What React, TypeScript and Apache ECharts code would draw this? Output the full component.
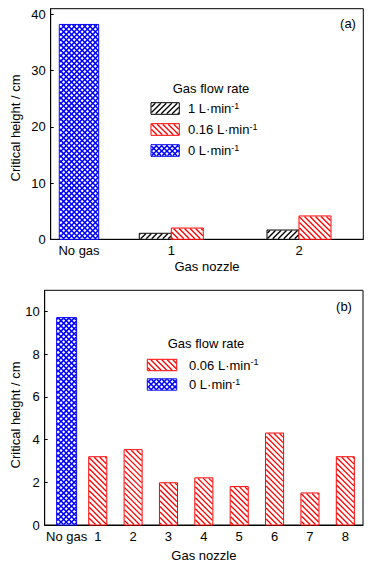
import React, { useEffect, useRef } from 'react';
import * as echarts from 'echarts';

const FONT = '"Liberation Sans", Arial, Helvetica, sans-serif';
const RED = '#ff0000';
const BLUE = '#0000ff';
const BLACK = '#000000';

// ---------- Panel (a) ----------
const topCategories = ['No gas', '1', '2'];
const topPositions = [0.905, 3.858, 7.943];
const topFlow1 = [null, 1.07, 1.65];
const topFlow016 = [null, 2.0, 4.15];
const topFlow0 = [38.2, null, null];
const topYTicks = [0, 10, 20, 30, 40];
const topLegendNames = ['1 L·min', '0.16 L·min', '0 L·min'];

// ---------- Panel (b) ----------
const bottomCategories = ['No gas', '1', '2', '3', '4', '5', '6', '7', '8'];
const bottomPositions = [0.62, 1.5, 2.5, 3.5, 4.5, 5.5, 6.5, 7.5, 8.5];
const bottomFlow006 = [null, 3.2, 3.53, 1.98, 2.21, 1.8, 4.31, 1.5, 3.2];
const bottomFlow0 = [9.72, null, null, null, null, null, null, null, null];
const bottomYTicks = [0, 2, 4, 6, 8, 10];
const bottomLegendNames = ['0.06 L·min', '0 L·min'];

type Hatch = 'fwd' | 'back' | 'cross';
interface BarStyle {
  color: string;
  hatch: Hatch;
  period: number;
  lw: number;
}

const S_BLACK: BarStyle = { color: BLACK, hatch: 'fwd', period: 5.5, lw: 1.3 };
const S_RED: BarStyle = { color: RED, hatch: 'back', period: 5.5, lw: 1.3 };
const S_BLUE: BarStyle = { color: BLUE, hatch: 'cross', period: 5.3, lw: 1.5 };

function swatch(ax0: number, ay0: number, ax1: number, ay1: number, st: BarStyle): any[] {
  const x0 = Math.min(ax0, ax1), x1 = Math.max(ax0, ax1);
  const y0 = Math.min(ay0, ay1), y1 = Math.max(ay0, ay1);
  const els: any[] = [];
  els.push({
    type: 'rect',
    shape: { x: x0, y: y0, width: x1 - x0, height: y1 - y0 },
    style: { fill: '#ffffff', stroke: 'none' },
  });
  const cx0 = x0 + 0.5, cx1 = x1 - 0.5, cy0 = y0 + 0.5, cy1 = y1 - 0.5;
  const dirs: ('fwd' | 'back')[] = st.hatch === 'cross' ? ['fwd', 'back'] : [st.hatch];
  const p = st.period;
  for (const d of dirs) {
    if (d === 'back') {
      const cMin = Math.ceil((cy0 - cx1) / p) * p;
      for (let c = cMin; c <= cy1 - cx0; c += p) {
        const xa = Math.max(cx0, cy0 - c);
        const xb = Math.min(cx1, cy1 - c);
        if (xb - xa < 0.05) continue;
        els.push({
          type: 'line',
          shape: { x1: xa, y1: xa + c, x2: xb, y2: xb + c },
          style: { stroke: st.color, lineWidth: st.lw },
        });
      }
    } else {
      const cMin = Math.ceil((cx0 + cy0) / p) * p;
      for (let c = cMin; c <= cx1 + cy1; c += p) {
        const xa = Math.max(cx0, c - cy1);
        const xb = Math.min(cx1, c - cy0);
        if (xb - xa < 0.05) continue;
        els.push({
          type: 'line',
          shape: { x1: xa, y1: c - xa, x2: xb, y2: c - xb },
          style: { stroke: st.color, lineWidth: st.lw },
        });
      }
    }
  }
  els.push({
    type: 'rect',
    shape: { x: x0, y: y0, width: x1 - x0, height: y1 - y0 },
    style: { fill: 'none', stroke: st.color, lineWidth: 1 },
  });
  return els;
}

function barSeries(
  name: string,
  positions: number[],
  values: (number | null)[],
  idx: number,
  st: BarStyle,
  width: number,
  offset: number
) {
  return {
    type: 'custom',
    name,
    xAxisIndex: idx,
    yAxisIndex: idx,
    silent: true,
    clip: false,
    encode: { x: 0, y: 1 },
    data: positions
      .map((p, i) => [p, values[i]])
      .filter((d) => d[1] !== null && d[1] !== undefined),
    renderItem: (_params: any, api: any) => {
      const x = api.value(0);
      const v = api.value(1);
      const c = x + offset * width;
      const tl = api.coord([c - width / 2, v]);
      const br = api.coord([c + width / 2, 0]);
      return { type: 'group', children: swatch(tl[0], tl[1], br[0], br[1], st) };
    },
  };
}

function labelFormatter(positions: number[], cats: string[]) {
  return (v: number) => {
    const i = positions.findIndex((p) => Math.abs(p - v) < 1e-6);
    return i >= 0 ? cats[i] : '';
  };
}

function legendItem(x0: number, yc: number, boxW: number, boxH: number, textX: number, label: string, st: BarStyle) {
  return [
    { type: 'group', children: swatch(x0, yc - boxH / 2, x0 + boxW, yc + boxH / 2, st) },
    {
      type: 'text',
      x: textX,
      y: yc,
      style: {
        text: `{a|${label}}{s|-1}`,
        align: 'left',
        verticalAlign: 'middle',
        textAlign: 'left',
        textVerticalAlign: 'middle',
        rich: {
          a: { fontSize: 13, fontFamily: FONT, fill: '#000', lineHeight: 15 },
          s: { fontSize: 9, fontFamily: FONT, fill: '#000', verticalAlign: 'top', lineHeight: 10 },
        },
      },
    },
  ];
}

function plainText(x: number, y: number, text: string, rotation = 0) {
  return {
    type: 'text',
    x,
    y,
    rotation,
    style: {
      text,
      fontSize: 13,
      fontFamily: FONT,
      fill: '#000',
      align: 'center',
      verticalAlign: 'middle',
      textAlign: 'center',
      textVerticalAlign: 'middle',
    },
  };
}

function xAxisCfg(idx: number, max: number, positions: number[], cats: string[], gap: number) {
  return {
    gridIndex: idx,
    type: 'value',
    min: 0,
    max,
    axisLine: { show: true, onZero: false, lineStyle: { color: '#000', width: 1 } },
    axisTick: { show: false },
    splitLine: { show: false },
    axisLabel: {
      customValues: positions,
      formatter: labelFormatter(positions, cats),
      fontSize: 13,
      fontFamily: FONT,
      color: '#000',
      margin: 5,
    },
    name: 'Gas nozzle',
    nameLocation: 'middle',
    nameGap: gap,
    nameTextStyle: { fontSize: 13, fontFamily: FONT, color: '#000' },
  };
}

function yAxisCfg(idx: number, max: number, ticks: number[]) {
  return {
    gridIndex: idx,
    type: 'value',
    min: 0,
    max,
    axisLine: { show: true, lineStyle: { color: '#000', width: 1 } },
    axisTick: { show: true, inside: true, length: 3, customValues: ticks, lineStyle: { color: '#000' } },
    axisLabel: {
      customValues: ticks,
      fontSize: 13,
      fontFamily: FONT,
      color: '#000',
      margin: 5,
    },
    splitLine: { show: false },
  };
}

export default function App() {
  const ref = useRef<HTMLDivElement>(null);
  useEffect(() => {
    document.body.style.margin = '0';
    if (!ref.current) return;
    const chart = echarts.init(ref.current, undefined, { renderer: 'svg' });
    const option: any = {
      animation: false,
      backgroundColor: '#ffffff',
      textStyle: { fontFamily: FONT },
      grid: [
        { left: 50.7, top: 8.7, width: 312.6, height: 230.6, show: true, borderColor: '#000', borderWidth: 1, backgroundColor: 'transparent' },
        { left: 44.7, top: 290.3, width: 318.3, height: 234.7, show: true, borderColor: '#000', borderWidth: 1, backgroundColor: 'transparent' },
      ],
      xAxis: [
        xAxisCfg(0, 10, topPositions, topCategories, 21),
        xAxisCfg(1, 9, bottomPositions, bottomCategories, 24),
      ],
      yAxis: [yAxisCfg(0, 41, topYTicks), yAxisCfg(1, 11, bottomYTicks)],
      series: [
        barSeries(topLegendNames[0], topPositions, topFlow1, 0, S_BLACK, 1.024, -0.5),
        barSeries(topLegendNames[1], topPositions, topFlow016, 0, S_RED, 1.024, 0.5),
        barSeries(topLegendNames[2], topPositions, topFlow0, 0, S_BLUE, 1.26, 0),
        barSeries(bottomLegendNames[0], bottomPositions, bottomFlow006, 1, S_RED, 0.51, 0),
        barSeries(bottomLegendNames[1], bottomPositions, bottomFlow0, 1, S_BLUE, 0.565, 0),
      ],
      graphic: [
        plainText(15, 128, 'Critical height / cm', Math.PI / 2),
        plainText(15, 415, 'Critical height / cm', Math.PI / 2),
        plainText(348, 23, '(a)'),
        plainText(344, 306, '(b)'),
        plainText(211, 88, 'Gas flow rate'),
        plainText(206, 343, 'Gas flow rate'),
        ...legendItem(151, 108.5, 28.3, 11.6, 188, topLegendNames[0], S_BLACK),
        ...legendItem(151, 129.5, 28.3, 11.6, 188, topLegendNames[1], S_RED),
        ...legendItem(151, 150.5, 28.3, 11.6, 188, topLegendNames[2], S_BLUE),
        ...legendItem(147.3, 365, 29.4, 11.4, 189, bottomLegendNames[0], S_RED),
        ...legendItem(147.3, 384.5, 29.4, 11.4, 189, bottomLegendNames[1], S_BLUE),
      ],
    };
    chart.setOption(option);
    return () => chart.dispose();
  }, []);
  return (
    <div
      ref={ref}
      style={{ position: 'absolute', left: 0, top: 0, width: 373, height: 569 }}
    />
  );
}
